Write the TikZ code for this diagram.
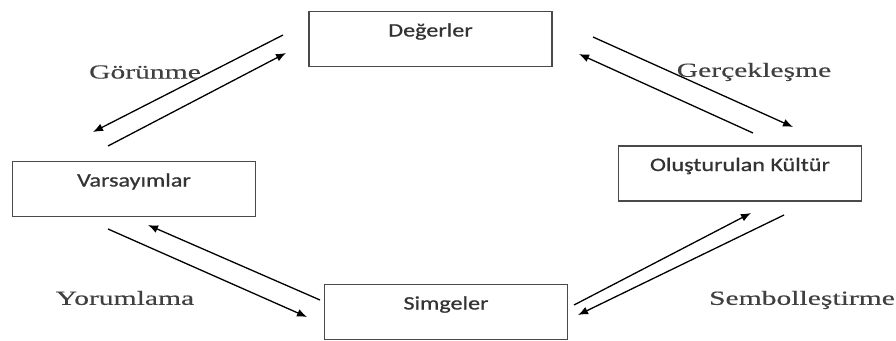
\documentclass[tikz,border=0pt]{standalone}
\usepackage{fontspec}
\usetikzlibrary{arrows.meta}
\newfontfamily\boxfont{Carlito}[FakeStretch=1.27, FakeBold=0.8]
\newfontfamily\labelfont{Liberation Serif}[FakeStretch=1.48, FakeBold=0.3]
\definecolor{boxline}{HTML}{4A4A4A}
\definecolor{boxtext}{HTML}{333333}
\definecolor{labeltext}{HTML}{404040}
\begin{document}
\begin{tikzpicture}[x=1pt, y=-1pt,
    box/.style = {draw=boxline, line width=1.5pt, minimum width=243pt, minimum height=55pt,
                  inner sep=0pt, text height=13.5pt, text depth=18.5pt, text=boxtext,
                  font=\boxfont\fontsize{19}{22}\selectfont},
    flow/.style = {black, line width=1.3pt, -{Latex[length=10pt, width=8pt]}},
    lbl/.style = {text=labeltext, inner sep=0pt, font=\labelfont\fontsize{20}{24}\selectfont}]
            \useasboundingbox (0,0) rectangle (896,340);

            \node[box] (values) at (430.5,39) {Değerler};
            \node[box] (assume) at (134,189) {Varsayımlar};
            \node[box] (culture) at (740,173.5) {Oluşturulan Kültür};
            \node[box] (symbols) at (446,312) {Simgeler};

            \coordinate (a1) at (283,35);   \coordinate (a2) at (93,132);
            \coordinate (b1) at (108,146);  \coordinate (b2) at (286,53);
            \coordinate (c1) at (593,37);   \coordinate (c2) at (793,127);
            \coordinate (d1) at (753,133);  \coordinate (d2) at (579,54);
            \coordinate (e1) at (108,229);  \coordinate (e2) at (307,317);
            \coordinate (f1) at (320,300);  \coordinate (f2) at (148,225);
            \coordinate (g1) at (574,305);  \coordinate (g2) at (751,213);
            \coordinate (h1) at (784,215);  \coordinate (h2) at (578,315);

            \draw[flow] (a1) -- (a2);
            \draw[flow] (b1) -- (b2);
            \draw[flow] (c1) -- (c2);
            \draw[flow] (d1) -- (d2);
            \draw[flow] (e1) -- (e2);
            \draw[flow] (f1) -- (f2);
            \draw[flow] (g1) -- (g2);
            \draw[flow] (h1) -- (h2);

            \node[lbl] (appear) at (145,72) {Görünme};
            \node[lbl] (realize) at (754,72) {Gerçekleşme};
            \node[lbl] (interpret) at (125,298) {Yorumlama};
            \node[lbl] (symbolize) at (802,300) {Sembolleştirme};
        \end{tikzpicture}
\end{document}
